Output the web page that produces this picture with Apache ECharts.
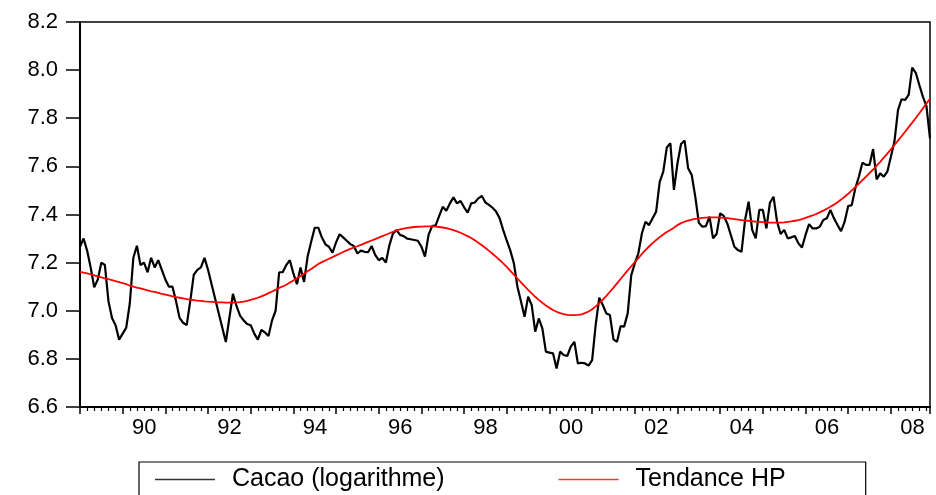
<!DOCTYPE html>
<html>
<head>
<meta charset="utf-8">
<script src="https://cdn.jsdelivr.net/npm/echarts@6/dist/echarts.min.js"></script>
<style>
html,body{margin:0;padding:0;background:#fff;}
#chart{width:936px;height:495px;}
</style>
</head>
<body>
<div id="chart"></div>
<script>
// Monthly observations, January 1989 to December 2008
const startYear = 1989;
const yearTicks = ['90','92','94','96','98','00','02','04','06','08'];
const seriesNames = ['Cacao (logarithme)', 'Tendance HP'];

const cacao = [
  7.266,7.30,7.25,7.18,7.097,7.13,7.20,7.19,7.04,6.97,6.94,6.88,
  6.905,6.93,7.03,7.22,7.27,7.19,7.20,7.16,7.22,7.18,7.21,7.17,
  7.13,7.10,7.10,7.04,6.97,6.95,6.94,7.04,7.15,7.17,7.18,7.22,
  7.17,7.11,7.05,6.99,6.93,6.87,6.97,7.07,7.02,6.98,6.96,6.945,
  6.94,6.905,6.88,6.92,6.91,6.895,6.96,7.00,7.16,7.16,7.19,7.21,
  7.155,7.11,7.18,7.12,7.225,7.287,7.345,7.345,7.305,7.276,7.266,7.241,
  7.284,7.318,7.305,7.291,7.277,7.269,7.238,7.25,7.245,7.243,7.269,7.232,
  7.21,7.22,7.20,7.273,7.321,7.335,7.315,7.31,7.30,7.297,7.294,7.291,
  7.266,7.225,7.315,7.352,7.355,7.394,7.432,7.416,7.446,7.471,7.446,7.456,
  7.43,7.408,7.446,7.45,7.467,7.477,7.45,7.44,7.428,7.412,7.384,7.335,
  7.291,7.25,7.197,7.10,7.038,6.975,7.058,7.024,6.913,6.968,6.927,6.83,
  6.826,6.823,6.76,6.83,6.816,6.812,6.851,6.871,6.781,6.784,6.781,6.772,
  6.795,6.941,7.054,7.024,6.989,6.982,6.881,6.871,6.936,6.934,6.989,7.148,
  7.197,7.239,7.322,7.37,7.356,7.384,7.412,7.536,7.578,7.679,7.696,7.502,
  7.613,7.693,7.707,7.592,7.564,7.474,7.366,7.349,7.352,7.391,7.301,7.319,
  7.405,7.394,7.363,7.315,7.266,7.252,7.245,7.377,7.453,7.336,7.301,7.419,
  7.419,7.342,7.449,7.474,7.37,7.319,7.336,7.301,7.305,7.311,7.28,7.263,
  7.315,7.36,7.342,7.342,7.349,7.377,7.384,7.419,7.384,7.356,7.331,7.37,
  7.435,7.439,7.509,7.557,7.615,7.606,7.606,7.672,7.546,7.571,7.557,7.578,
  7.64,7.703,7.834,7.879,7.876,7.897,8.01,7.989,7.938,7.89,7.85,7.716
];

const tendance = [
  7.162,7.158,7.155,7.151,7.147,7.143,7.139,7.135,7.131,7.127,7.123,7.119,
  7.115,7.111,7.104,7.100,7.096,7.093,7.089,7.085,7.081,7.078,7.074,7.070,
  7.067,7.064,7.060,7.057,7.054,7.051,7.048,7.046,7.044,7.042,7.041,7.039,
  7.038,7.037,7.036,7.035,7.035,7.034,7.034,7.034,7.035,7.036,7.038,7.041,
  7.045,7.049,7.054,7.060,7.066,7.073,7.080,7.087,7.095,7.101,7.108,7.117,
  7.126,7.135,7.144,7.154,7.164,7.174,7.184,7.194,7.202,7.209,7.216,7.223,
  7.230,7.237,7.244,7.251,7.257,7.263,7.268,7.274,7.280,7.286,7.292,7.298,
  7.304,7.310,7.316,7.322,7.328,7.334,7.338,7.341,7.344,7.346,7.348,7.349,
  7.350,7.351,7.351,7.351,7.350,7.348,7.346,7.343,7.339,7.335,7.330,7.324,
  7.317,7.310,7.302,7.293,7.283,7.272,7.261,7.249,7.237,7.224,7.211,7.197,
  7.182,7.166,7.150,7.134,7.118,7.102,7.087,7.072,7.058,7.045,7.033,7.022,
  7.012,7.003,6.996,6.990,6.986,6.983,6.982,6.982,6.983,6.985,6.990,6.997,
  7.006,7.018,7.031,7.046,7.062,7.079,7.096,7.114,7.132,7.150,7.168,7.185,
  7.202,7.219,7.236,7.252,7.267,7.281,7.294,7.306,7.317,7.327,7.336,7.345,
  7.356,7.364,7.370,7.375,7.379,7.382,7.384,7.386,7.387,7.388,7.388,7.388,
  7.387,7.386,7.385,7.383,7.381,7.379,7.377,7.375,7.374,7.372,7.370,7.369,
  7.368,7.367,7.366,7.366,7.366,7.366,7.367,7.369,7.371,7.374,7.377,7.381,
  7.386,7.391,7.396,7.402,7.409,7.416,7.424,7.432,7.441,7.451,7.462,7.474,
  7.486,7.500,7.514,7.528,7.543,7.557,7.572,7.587,7.603,7.619,7.636,7.653,
  7.671,7.689,7.707,7.725,7.744,7.763,7.782,7.801,7.821,7.841,7.861,7.881
];

const FONT = '"Liberation Sans", Arial, Helvetica, sans-serif';
const chart = echarts.init(document.getElementById('chart'), null, {renderer: 'canvas'});

const toPairs = arr => arr.map((v, i) => [i, v]);

chart.setOption({
  animation: false,
  backgroundColor: '#ffffff',
  grid: {
    left: 80, right: 6, top: 22, bottom: 88,
    show: true, borderColor: '#000', borderWidth: 1.5, backgroundColor: 'transparent'
  },
  xAxis: {
    type: 'value',
    min: 0,
    max: cacao.length - 1,
    interval: 12,
    splitLine: {show: false},
    axisLine: {show: true, onZero: false, lineStyle: {color: '#000', width: 2}},
    axisTick: {show: true, length: 7, lineStyle: {color: '#000', width: 1.5}},
    minorTick: {show: true, splitNumber: 6, length: 4, lineStyle: {color: '#000', width: 1.2}},
    axisLabel: {
      color: '#000',
      fontFamily: FONT,
      fontSize: 22,
      margin: 10,
      padding: [0, 0, 0, 43],
      showMaxLabel: false,
      formatter: function (v) {
        if (v % 24 !== 12) return '';
        const k = (v - 12) / 24;
        return yearTicks[k] || '';
      }
    }
  },
  yAxis: {
    type: 'value',
    min: 6.6,
    max: 8.2,
    interval: 0.2,
    splitLine: {show: false},
    axisLine: {show: true, lineStyle: {color: '#000', width: 2}},
    axisTick: {show: true, length: 14, lineStyle: {color: '#000', width: 1.5}},
    axisLabel: {
      color: '#000',
      fontFamily: FONT,
      fontSize: 22,
      margin: 22,
      formatter: v => v.toFixed(1)
    }
  },
  legend: {
    show: true,
    left: 139,
    top: 462,
    orient: 'horizontal',
    padding: [5, 80, 20, 16],
    itemGap: 114,
    itemWidth: 60,
    itemHeight: 1.5,
    icon: 'rect',
    borderColor: '#000',
    borderWidth: 1.2,
    backgroundColor: '#fff',
    textStyle: {color: '#000', fontFamily: FONT, fontSize: 25, padding: [0, 0, 0, 12]},
    data: [
      {name: seriesNames[0], itemStyle: {color: '#333'}},
      {name: seriesNames[1], itemStyle: {color: '#ff3030'}}
    ]
  },
  series: [
    {
      name: seriesNames[0],
      type: 'line',
      data: toPairs(cacao),
      symbol: 'none',
      showSymbol: false,
      lineStyle: {color: '#000', width: 2.2},
      itemStyle: {color: '#000'},
      z: 2
    },
    {
      name: seriesNames[1],
      type: 'line',
      data: toPairs(tendance),
      symbol: 'none',
      showSymbol: false,
      smooth: false,
      lineStyle: {color: '#ff0000', width: 1.8},
      itemStyle: {color: '#ff0000'},
      z: 3
    }
  ]
});
</script>
</body>
</html>
